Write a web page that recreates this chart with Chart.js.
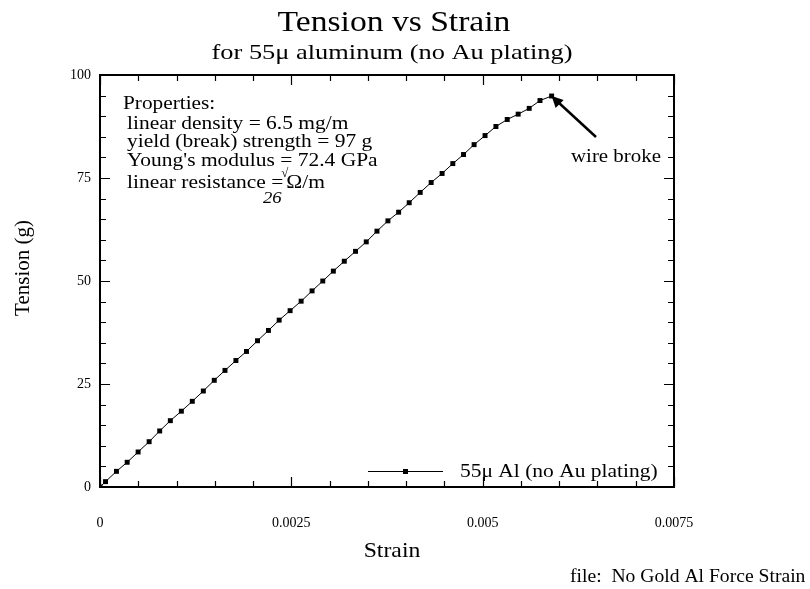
<!DOCTYPE html>
<html>
<head>
<meta charset="utf-8">
<title>Tension vs Strain</title>
<script src="https://cdn.jsdelivr.net/npm/chart.js@4"></script>
<style>
  html, body { margin: 0; padding: 0; background: #fff; }
  #wrap { width: 810px; height: 589px; }
</style>
</head>
<body>
<div id="wrap"><canvas id="tension-chart" width="810" height="589"></canvas></div>
<script>
// ─── Data ──────────────────────────────────────────────────────────
const strain = [
  0, 0.000072, 0.000215, 0.000355, 0.000498, 0.000642, 0.00078, 0.000919,
  0.001063, 0.001206, 0.00135, 0.001493, 0.001633, 0.001776, 0.001914,
  0.002058, 0.002201, 0.002341, 0.002484, 0.002628, 0.002771, 0.002911,
  0.003049, 0.003192, 0.003339, 0.003479, 0.003619, 0.003762, 0.003902,
  0.00404, 0.004184, 0.004327, 0.00447, 0.00461, 0.00475, 0.004888,
  0.005031, 0.005173, 0.005321, 0.005464, 0.005608, 0.005749, 0.005901,
];
const tension = [
  0, 1.3, 3.8, 6.0, 8.5, 11.0, 13.6, 16.1,
  18.4, 20.8, 23.3, 25.9, 28.3, 30.7, 32.9,
  35.5, 38.0, 40.5, 42.8, 45.1, 47.6, 50.0,
  52.4, 54.8, 57.2, 59.5, 62.1, 64.6, 66.7,
  69.0, 71.5, 73.9, 76.1, 78.5, 80.7, 83.1,
  85.3, 87.5, 89.2, 90.5, 91.9, 93.8, 94.9,
];

const xMajorTicks = [0, 0.0025, 0.005, 0.0075];
const xMinorTicks = [0.0005, 0.001, 0.0015, 0.002, 0.003, 0.0035, 0.004, 0.0045,
  0.0055, 0.006, 0.0065, 0.007];
const yMajorTicks = [0, 25, 50, 75, 100];
const yMinorTicks = [5, 10, 15, 20, 30, 35, 40, 45, 55, 60, 65, 70, 80, 85, 90, 95];

const seriesLabel = '55\u03bc Al (no Au plating)';
const propertyLines = [
  'linear density = 6.5 mg/m',
  'yield (break) strength = 97 g',
  "Young's modulus = 72.4 GPa",
];
const breakPoint = { x: 0.005901, y: 94.9 };

const SERIF = '"Liberation Serif", "DejaVu Serif", serif';

// text with a little horizontal stretch, the scan's type runs wide
function wideText(ctx, text, x, y, size, sx, style) {
  ctx.save();
  ctx.font = (style ? style + ' ' : '') + size + 'px ' + SERIF;
  ctx.translate(x, y);
  ctx.scale(sx, 1);
  ctx.fillText(text, 0, 0);
  const w = ctx.measureText(text).width * sx;
  ctx.restore();
  return w;
}

// ─── Frame, inward ticks, titles and notes ─────────────────────────
const framePlugin = {
  id: 'frame',
  afterDraw(chart) {
    const { ctx, chartArea: a, scales } = chart;
    const xs = scales.x, ys = scales.y;
    ctx.save();
    ctx.strokeStyle = '#000';
    ctx.fillStyle = '#000';

    // box
    ctx.lineWidth = 2;
    ctx.strokeRect(a.left, a.top, a.right - a.left, a.bottom - a.top);

    // ticks on all four sides, pointing in
    ctx.lineWidth = 1.2;
    const tickX = (vals, len) => {
      for (const v of vals) {
        const px = Math.round(xs.getPixelForValue(v)) + 0.5;
        ctx.beginPath();
        ctx.moveTo(px, a.bottom); ctx.lineTo(px, a.bottom - len);
        ctx.moveTo(px, a.top); ctx.lineTo(px, a.top + len);
        ctx.stroke();
      }
    };
    const tickY = (vals, len) => {
      for (const v of vals) {
        const py = Math.round(ys.getPixelForValue(v)) + 0.5;
        ctx.beginPath();
        ctx.moveTo(a.left, py); ctx.lineTo(a.left + len, py);
        ctx.moveTo(a.right, py); ctx.lineTo(a.right - len, py);
        ctx.stroke();
      }
    };
    tickX(xMajorTicks, 10);
    tickX(xMinorTicks, 6);
    tickY(yMajorTicks, 10);
    tickY(yMinorTicks, 6);

    // titles
    ctx.textBaseline = 'middle';
    ctx.textAlign = 'center';
    wideText(ctx, 'Tension vs Strain', 394, 23, 30, 1.12);
    wideText(ctx, 'for 55\u03bc aluminum (no Au plating)', 392, 53, 22, 1.2);

    // axis titles
    wideText(ctx, 'Strain', 392, 551, 21, 1.13);
    ctx.save();
    ctx.font = '21px ' + SERIF;
    ctx.translate(23, 268);
    ctx.rotate(-Math.PI / 2);
    ctx.fillText('Tension (g)', 0, 0);
    ctx.restore();

    ctx.textAlign = 'left';
    // file note
    wideText(ctx, 'file:  No Gold Al Force Strain', 570, 577, 18, 1.09);

    // properties block
    wideText(ctx, 'Properties:', 123, 104, 19, 1.12);
    const lineY = [124, 142, 161];
    propertyLines.forEach((t, i) => wideText(ctx, t, 127, lineY[i], 19, 1.13));
    const w = wideText(ctx, 'linear resistance =', 127, 183, 19, 1.13);
    wideText(ctx, '\u03a9/m', 127 + w + 3, 183, 19, 1.13);
    // handwritten bits
    wideText(ctx, '\u221a', 127 + w - 2, 174, 13, 1, 'italic');
    wideText(ctx, '26', 263, 199, 17, 1.1, 'italic');

    // wire broke note with arrow
    wideText(ctx, 'wire broke', 571, 157, 19, 1.1);
    const tx = xs.getPixelForValue(breakPoint.x);
    const ty = ys.getPixelForValue(breakPoint.y);
    ctx.lineWidth = 2.5;
    ctx.beginPath();
    ctx.moveTo(596, 137);
    ctx.lineTo(tx + 2, ty + 2);
    ctx.stroke();
    ctx.beginPath();
    ctx.moveTo(tx, ty);
    ctx.lineTo(tx + 4, ty + 12);
    ctx.lineTo(tx + 12, ty + 4);
    ctx.closePath();
    ctx.fill();

    // legend
    ctx.lineWidth = 1;
    ctx.beginPath();
    ctx.moveTo(368, 471.5); ctx.lineTo(443, 471.5);
    ctx.stroke();
    ctx.fillRect(403, 469, 5, 5);
    wideText(ctx, seriesLabel, 460, 472, 19, 1.13);

    ctx.restore();
  },
};

new Chart(document.getElementById('tension-chart'), {
  type: 'scatter',
  data: {
    datasets: [{
      label: seriesLabel,
      data: strain.map((s, i) => ({ x: s, y: tension[i] })),
      showLine: true,
      borderColor: '#000',
      borderWidth: 1,
      backgroundColor: '#000',
      pointStyle: 'rect',
      pointRadius: 3.5,
      pointBorderWidth: 0,
      tension: 0,
    }],
  },
  options: {
    responsive: false,
    animation: false,
    layout: { padding: { left: 0, top: 75, right: 136, bottom: 0 } },
    plugins: {
      legend: { display: false },
      tooltip: { enabled: false },
    },
    scales: {
      x: {
        type: 'linear',
        min: 0,
        max: 0.0075,
        grid: { display: false, drawTicks: false },
        border: { display: false },
        afterFit: (s) => { s.height = 102; },
        afterBuildTicks: (s) => { s.ticks = xMajorTicks.map((v) => ({ value: v })); },
        ticks: {
          color: '#000',
          padding: 28,
          maxRotation: 0,
          font: { family: SERIF, size: 14 },
          callback: (v) => String(Number(v.toFixed(4))),
        },
      },
      y: {
        type: 'linear',
        min: 0,
        max: 100,
        grid: { display: false, drawTicks: false },
        border: { display: false },
        afterFit: (s) => { s.width = 100; },
        afterBuildTicks: (s) => { s.ticks = yMajorTicks.map((v) => ({ value: v })); },
        ticks: {
          color: '#000',
          padding: 9,
          font: { family: SERIF, size: 14 },
        },
      },
    },
  },
  plugins: [framePlugin],
});
</script>
</body>
</html>
